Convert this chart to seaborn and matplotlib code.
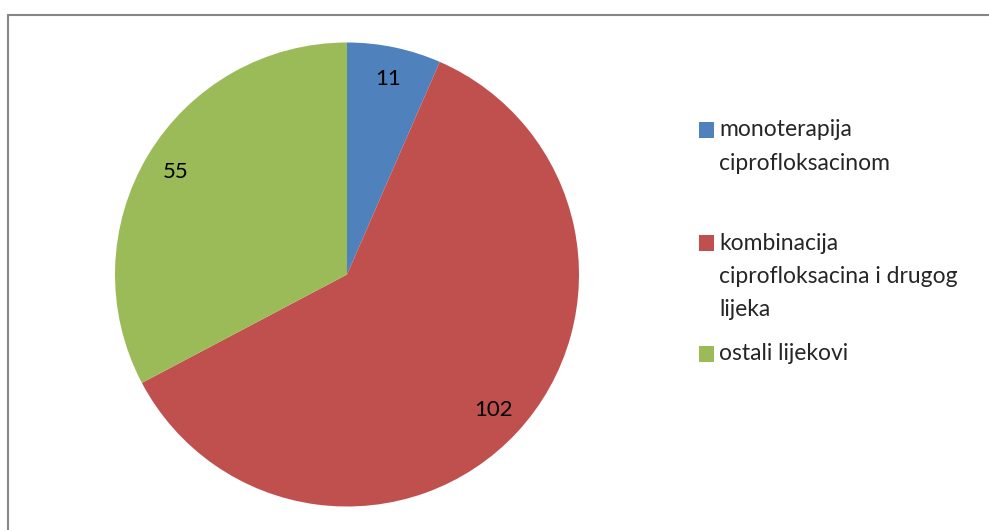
import matplotlib
matplotlib.use("Agg")
import matplotlib.pyplot as plt
import seaborn as sns
from matplotlib.patches import Rectangle
from matplotlib.lines import Line2D

# podaci
categories = [["monoterapija", "ciprofloksacinom"],
              ["kombinacija", "ciprofloksacina i drugog", "lijeka"],
              ["ostali lijekovi"]]
values = [11, 102, 55]
colors = ["#4F81BD", "#C0504D", "#9BBB59"]

sns.set_theme(style="white")
plt.rcParams['font.family'] = ['Lato', 'DejaVu Sans']

W, H = 989, 530
fig = plt.figure(figsize=(W / 100, H / 100), dpi=100)

# pie axes: centar (347, 274.5), radijus 232 px
R = 232
cx, cy = 347, 274.5
ax = fig.add_axes([(cx - R) / W, (H - cy - R) / H, 2 * R / W, 2 * R / H])
wedges, texts = ax.pie(values, colors=colors, startangle=90, counterclock=False,
                       labels=[str(v) for v in values], labeldistance=0.86,
                       wedgeprops=dict(linewidth=0),
                       textprops=dict(fontsize=16, color="black", ha="center", va="center"))
ax.set_xlim(-1, 1)
ax.set_ylim(-1, 1)
ax.set_aspect("equal")
ax.axis("off")

# legenda (rucno, nejednak razmak kao u originalu)
line_base = [[136.5, 170.5], [250, 283, 316], [360.5]]
for lines, bases, c in zip(categories, line_base, colors):
    b0 = bases[0]
    fig.add_artist(Rectangle((699 / W, (H - b0 - 1) / H), 15 / W, 16 / H,
                             transform=fig.transFigure, color=c, lw=0))
    for txt, b in zip(lines, bases):
        fig.text(719 / W, (H - b) / H, txt, fontsize=16.5, va="baseline", ha="left",
                 transform=fig.transFigure)

# okvir (vidljiv samo gornji i lijevi rub)
fig.add_artist(Line2D([7.5 / W, 7.5 / W], [0, (H - 14.5) / H], color="#868686", lw=1.5,
                      transform=fig.transFigure))
fig.add_artist(Line2D([7.5 / W, 1], [(H - 14.5) / H, (H - 14.5) / H], color="#868686", lw=1.5,
                      transform=fig.transFigure))

fig.savefig("out.png", dpi=100)
